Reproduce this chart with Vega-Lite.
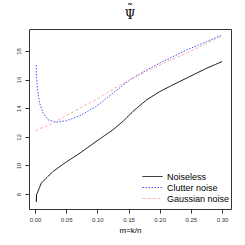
{
  "$schema": "https://vega.github.io/schema/vega-lite/v6.json",
  "autosize": "none",
  "padding": {"left": 29, "top": 29, "right": 14, "bottom": 36},
  "width": 202,
  "height": 180,
  "background": "white",
  "config": {"view": {"stroke": "#333333", "strokeWidth": 1}, "font": "Liberation Sans"},
  "title": {"text": ["˜", "Ψ"], "font": "DejaVu Serif", "fontSize": 12, "lineHeight": 6, "fontWeight": "normal", "offset": 7, "color": "black"},
  "data": {"values": [
    {"s":"Noiseless","x":0.002,"y":7.44},{"s":"Noiseless","x":0.0025,"y":7.95},{"s":"Noiseless","x":0.005,"y":8.2},{"s":"Noiseless","x":0.01,"y":8.75},{"s":"Noiseless","x":0.0155,"y":9.0},{"s":"Noiseless","x":0.029,"y":9.58},{"s":"Noiseless","x":0.05,"y":10.23},{"s":"Noiseless","x":0.072,"y":10.86},{"s":"Noiseless","x":0.098,"y":11.67},{"s":"Noiseless","x":0.125,"y":12.49},{"s":"Noiseless","x":0.141,"y":13.07},{"s":"Noiseless","x":0.157,"y":13.77},{"s":"Noiseless","x":0.179,"y":14.58},{"s":"Noiseless","x":0.2,"y":15.16},{"s":"Noiseless","x":0.221,"y":15.63},{"s":"Noiseless","x":0.248,"y":16.21},{"s":"Noiseless","x":0.275,"y":16.79},{"s":"Noiseless","x":0.3,"y":17.26},
    {"s":"Clutter noise","x":0.002,"y":17.02},{"s":"Clutter noise","x":0.0025,"y":16.21},{"s":"Clutter noise","x":0.004,"y":15.28},{"s":"Clutter noise","x":0.0075,"y":14.35},{"s":"Clutter noise","x":0.013,"y":13.65},{"s":"Clutter noise","x":0.021,"y":13.19},{"s":"Clutter noise","x":0.034,"y":13.02},{"s":"Clutter noise","x":0.05,"y":13.12},{"s":"Clutter noise","x":0.072,"y":13.47},{"s":"Clutter noise","x":0.098,"y":14.12},{"s":"Clutter noise","x":0.125,"y":15.05},{"s":"Clutter noise","x":0.152,"y":15.98},{"s":"Clutter noise","x":0.179,"y":16.67},{"s":"Clutter noise","x":0.205,"y":17.26},{"s":"Clutter noise","x":0.243,"y":18.07},{"s":"Clutter noise","x":0.275,"y":18.65},{"s":"Clutter noise","x":0.3,"y":19.12},
    {"s":"Gaussian noise","x":0.002,"y":12.37},{"s":"Gaussian noise","x":0.003,"y":12.49},{"s":"Gaussian noise","x":0.0235,"y":12.84},{"s":"Gaussian noise","x":0.05,"y":13.47},{"s":"Gaussian noise","x":0.077,"y":14.12},{"s":"Gaussian noise","x":0.104,"y":14.74},{"s":"Gaussian noise","x":0.13,"y":15.47},{"s":"Gaussian noise","x":0.157,"y":16.09},{"s":"Gaussian noise","x":0.184,"y":16.67},{"s":"Gaussian noise","x":0.211,"y":17.26},{"s":"Gaussian noise","x":0.243,"y":17.84},{"s":"Gaussian noise","x":0.275,"y":18.53},{"s":"Gaussian noise","x":0.3,"y":19.05}
  ]},
  "mark": {"type": "line", "strokeWidth": 1},
  "encoding": {
    "x": {"field": "x", "type": "quantitative", "title": "m=k/n",
      "scale": {"domain": [-0.0096, 0.3144], "nice": false, "zero": false},
      "axis": {"values": [0, 0.05, 0.1, 0.15, 0.2, 0.25, 0.3], "format": ".2f", "grid": false, "domain": false,
        "tickColor": "#333333", "tickSize": 4, "labelFontSize": 6, "labelColor": "#333333", "labelPadding": 3,
        "titleFontSize": 8, "titleFontWeight": "normal", "titleColor": "black", "titlePadding": 4}},
    "y": {"field": "y", "type": "quantitative", "title": null,
      "scale": {"domain": [6.95, 19.54], "nice": false, "zero": false},
      "axis": {"values": [8, 10, 12, 14, 16, 18], "grid": false, "domain": false,
        "tickColor": "#333333", "tickSize": 4, "labelFontSize": 6, "labelColor": "#333333", "labelPadding": 4,
        "labelAngle": -90, "labelAlign": "center", "labelBaseline": "bottom"}},
    "color": {"field": "s", "type": "nominal",
      "scale": {"domain": ["Noiseless", "Clutter noise", "Gaussian noise"], "range": ["#000000", "#5050ff", "#ffb0b0"]},
      "legend": {"orient": "none", "legendX": 113, "legendY": 142, "title": null, "symbolType": "stroke",
        "symbolSize": 400, "symbolStrokeWidth": 1, "labelFontSize": 9, "labelColor": "black", "rowPadding": 0,
        "clipHeight": 11, "labelOffset": 4, "padding": 0}},
    "strokeDash": {"field": "s", "type": "nominal",
      "scale": {"domain": ["Noiseless", "Clutter noise", "Gaussian noise"], "range": [[1, 0], [1.5, 1.5], [3, 2]]},
      "legend": null}
  }
}
